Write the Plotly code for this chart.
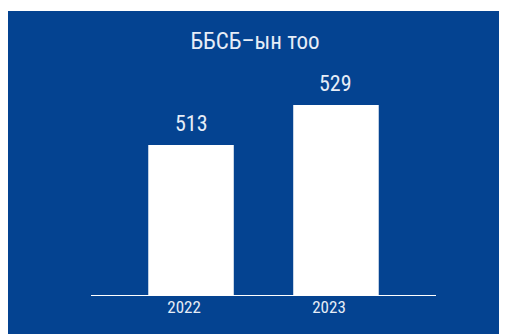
import plotly.graph_objects as go

years = ["2022", "2023"]
counts = [513, 529]
title_text = "ББСБ–ын тоо"

BLUE = "#044391"
LIGHT = "#e6edf7"
FONT = "Liberation Sans Narrow, Roboto Condensed, Arial Narrow, Roboto, sans-serif"

# page body has an 8px margin; figure runs off the right/bottom edge
W, H = 515, 332
L, T = 83, 52
R = W - 428
B = H - 287
plot_w, plot_h = W - L - R, H - T - B

fig = go.Figure(go.Bar(x=years, y=counts, marker_color="white",
                       marker_line_width=0, width=0.59))

# white strip along the top edge
fig.add_shape(type="rect", xref="paper", yref="paper", layer="below",
              x0=-L / plot_w - 0.05, x1=(W - L) / plot_w + 0.05,
              y0=(H - B - 3) / plot_h, y1=(H - B + 5) / plot_h,
              fillcolor="white", line_width=0)

# value labels above the bars (category positions by index)
for i, v in enumerate(counts):
    fig.add_annotation(x=i, y=v, text=str(v), showarrow=False,
                       yanchor="bottom", yshift=7,
                       font=dict(family=FONT, size=22, color=LIGHT))

fig.update_layout(
    width=W, height=H,
    margin=dict(l=L, r=R, t=T, b=B),
    paper_bgcolor=BLUE, plot_bgcolor="rgba(0,0,0,0)",
    showlegend=False,
    title=dict(text=title_text, x=247 / W, xanchor="center",
               y=1 - 33 / H, yanchor="middle",
               font=dict(family=FONT, size=23, color=LIGHT)),
    xaxis=dict(type="category", range=[-0.69, 1.69], showgrid=False,
               showline=True, linecolor="white", linewidth=1.3,
               ticks="", ticklabelshift=-7, ticklabelstandoff=-4,
               tickfont=dict(family=FONT, size=17, color=LIGHT)),
    yaxis=dict(range=[453, 547], showgrid=False, zeroline=False,
               showline=False, showticklabels=False, ticks=""),
)

fig.write_html(
    "out.html",
    post_script="document.documentElement.style.overflow='hidden';"
                "document.body.style.overflow='hidden';",
)
